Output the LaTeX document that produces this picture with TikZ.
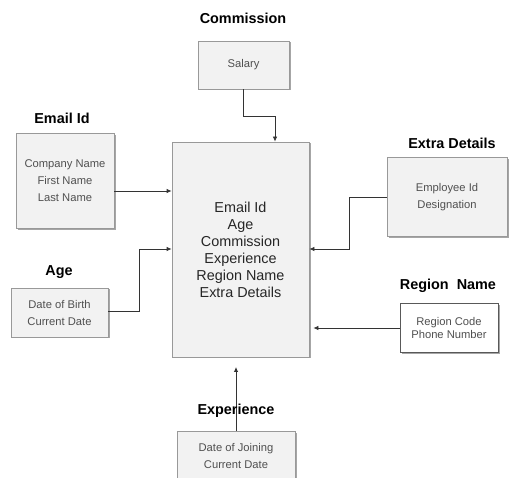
\documentclass[tikz,border=0pt]{standalone}
\usepackage{fontspec}
\setmainfont{Liberation Sans}
\usetikzlibrary{positioning, shadows, arrows.meta}

\definecolor{boxfill}{HTML}{F2F2F2}
\definecolor{boxline}{HTML}{999999}
\definecolor{inktext}{HTML}{505050}
\definecolor{linecol}{HTML}{333333}

\tikzset{
  entity/.style={rectangle, draw=boxline, fill=boxfill, line width=0.8pt,
    drop shadow={shadow xshift=1.5pt, shadow yshift=-1.5pt, fill=black!35, opacity=1},
    align=center, text=inktext, inner sep=0pt,
    font=\fontsize{11.2}{17}\selectfont},
  title/.style={font=\fontsize{14.4}{17}\selectfont\bfseries, text=black},
  conn/.style={draw=linecol, line width=0.8pt, -{Latex[length=5pt,width=4.5pt]}}
}

\begin{document}
\begin{tikzpicture}[x=1pt, y=-1pt]
        \clip (0,0) rectangle (509,478);
        \fill[white] (0,0) rectangle (509,478);

        \node[entity, minimum width=137pt, minimum height=215pt, text=black!85,
              font=\fontsize{14.4}{17}\selectfont] (main) at (240.5, 249.5)
              {Email Id\\Age\\Commission\\Experience\\Region Name\\Extra Details};

        \node[entity, minimum width=91pt, minimum height=48pt] (salary) at (243.5, 65) {Salary};
        \node[entity, minimum width=98pt, minimum height=95pt] (email) at (65, 181) {Company Name\\First Name\\Last Name};
        \node[entity, minimum width=120pt, minimum height=79pt] (extra) at (447, 197) {Employee Id\\Designation};
        \node[entity, minimum width=97pt, minimum height=49pt] (age) at (59.5, 312.5) {Date of Birth\\Current Date};
        \node[entity, fill=white, draw=black!65, minimum width=98pt, minimum height=49pt,
              font=\fontsize{11.2}{13}\selectfont] (region) at (449, 328) {Region Code\\Phone Number};
        \node[entity, minimum width=118pt, minimum height=49pt] (exp) at (236, 455.5) {Date of Joining\\Current Date};

        \node[title] (tcomm) at (243, 18) {Commission};
        \node[title] (temail) at (62, 118) {Email Id};
        \node[title] (textra) at (452, 143) {Extra Details};
        \node[title] (tage) at (59, 272) {Age};
        \node[title] (tregion) at (448, 286) {Region\ \ Name};

        \draw[conn] (salary.south) -- ++(0,27) -| ([xshift=34.5pt]main.north);
        \draw[conn] (email.east |- 0,191) -- (main.west |- 0,191);
        \draw[conn] (age.east |- 0,311) -- (139,311) |- (main.west |- 0,249);
        \draw[conn] (extra.west |- 0,197) -- (349,197) |- (main.east |- 0,249);
        \draw[conn] (region.west |- 0,328) -- ([xshift=4pt]main.east |- 0,328);
        \draw[conn] (exp.north) -- (exp.north |- 0,367);

        \node[title] (texp) at (236, 411) {Experience};
    \end{tikzpicture}
\end{document}
